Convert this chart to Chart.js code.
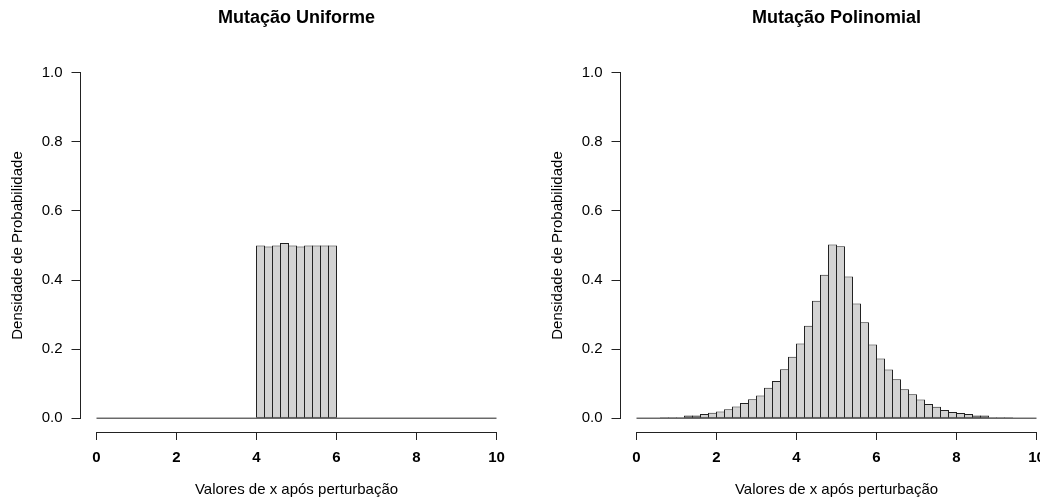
<!DOCTYPE html>
<html>
<head>
<meta charset="utf-8">
<script src="https://cdn.jsdelivr.net/npm/chart.js@4.4.1/dist/chart.umd.min.js"></script>
<style>
  html, body { margin: 0; padding: 0; background: #fff; overflow: hidden; }
  #wrap { position: relative; width: 1040px; height: 501px; overflow: hidden; }
  canvas { position: absolute; top: 0; }
  #uniformChart { left: 0; }
  #polyChart { left: 540px; }
</style>
</head>
<body>
<div id="wrap">
  <canvas id="uniformChart" width="520" height="501"></canvas>
  <canvas id="polyChart" width="520" height="501"></canvas>
</div>
<script>
// Histogramas de densidade (bins de 0.2 entre 0 e 10)

const binCenters = [
  0.1, 0.3, 0.5, 0.7, 0.9, 1.1, 1.3, 1.5, 1.7, 1.9,
  2.1, 2.3, 2.5, 2.7, 2.9, 3.1, 3.3, 3.5, 3.7, 3.9,
  4.1, 4.3, 4.5, 4.7, 4.9, 5.1, 5.3, 5.5, 5.7, 5.9,
  6.1, 6.3, 6.5, 6.7, 6.9, 7.1, 7.3, 7.5, 7.7, 7.9,
  8.1, 8.3, 8.5, 8.7, 8.9, 9.1, 9.3, 9.5, 9.7, 9.9
];

const uniformDensity = [
  0, 0, 0, 0, 0, 0, 0, 0, 0, 0,
  0, 0, 0, 0, 0, 0, 0, 0, 0, 0,
  0.500, 0.497, 0.500, 0.507, 0.500, 0.497, 0.500, 0.500, 0.500, 0.500,
  0, 0, 0, 0, 0, 0, 0, 0, 0, 0,
  0, 0, 0, 0, 0, 0, 0, 0, 0, 0
];

const polyDensity = [
  0, 0, 0, 0.003, 0.003, 0.003, 0.008, 0.008, 0.012, 0.016,
  0.019, 0.026, 0.034, 0.044, 0.055, 0.066, 0.088, 0.108, 0.142, 0.178,
  0.216, 0.268, 0.340, 0.415, 0.503, 0.498, 0.410, 0.332, 0.278, 0.213,
  0.173, 0.141, 0.113, 0.084, 0.069, 0.054, 0.041, 0.033, 0.024, 0.018,
  0.015, 0.012, 0.008, 0.008, 0.003, 0.003, 0.003, 0, 0, 0
];

const histRange = [0, 10];
const xTicks = [0, 2, 4, 6, 8, 10];
const yTicks = [0, 0.2, 0.4, 0.6, 0.8, 1.0];

const FONT = "'Liberation Sans', Arial, Helvetica, sans-serif";
const axisColor = '#222';

// eixos no estilo R: linha só do primeiro ao último tick
const rAxes = {
  id: 'rAxes',
  afterDraw(chart) {
    const { ctx, chartArea, scales: { x, y } } = chart;
    const bx = Math.floor(chartArea.left) + 0.5;
    const by = Math.floor(chartArea.bottom) + 0.5;
    ctx.save();
    ctx.strokeStyle = axisColor;
    ctx.lineWidth = 1;
    ctx.beginPath();
    ctx.moveTo(x.getPixelForValue(xTicks[0]), by);
    ctx.lineTo(x.getPixelForValue(xTicks[xTicks.length - 1]), by);
    ctx.moveTo(bx, y.getPixelForValue(yTicks[0]));
    ctx.lineTo(bx, y.getPixelForValue(yTicks[yTicks.length - 1]));
    ctx.stroke();
    ctx.restore();
  }
};

function makeHist(canvasId, title, density) {
  new Chart(document.getElementById(canvasId), {
    type: 'bar',
    data: {
      datasets: [
        {
          data: binCenters.map((c, i) => ({ x: c, y: density[i] })),
          backgroundColor: '#d3d3d3',
          borderColor: axisColor,
          borderWidth: 1,
          borderSkipped: false,
          inflateAmount: 0,
          categoryPercentage: 1,
          barPercentage: 1.125,
          order: 2
        },
        {
          type: 'line',
          data: histRange.map(v => ({ x: v, y: 0 })),
          borderColor: axisColor,
          borderWidth: 1,
          pointRadius: 0,
          order: 1
        }
      ]
    },
    options: {
      responsive: false,
      animation: false,
      layout: { padding: { left: 0, right: 7.5, top: 0, bottom: 0 } },
      plugins: {
        legend: { display: false },
        tooltip: { enabled: false },
        title: {
          display: true,
          fullSize: false,
          text: title,
          color: '#000',
          font: { family: FONT, size: 18, weight: 'bold' },
          padding: { top: 7, bottom: 30.4 }
        }
      },
      scales: {
        x: {
          type: 'linear',
          min: -0.4,
          max: 10.4,
          offset: false,
          afterFit: s => { s.height = 69; },
          afterBuildTicks: s => { s.ticks = xTicks.map(v => ({ value: v })); },
          border: { display: false },
          grid: { display: true, offset: false, drawOnChartArea: false, drawTicks: true, tickLength: 8, color: axisColor },
          ticks: {
            color: '#000',
            padding: 9,
            maxRotation: 0,
            autoSkip: false,
            font: { family: FONT, size: 15, weight: 'bold' },
            callback: v => String(v)
          },
          title: {
            display: true,
            text: 'Valores de x após perturbação',
            color: '#000',
            font: { family: FONT, size: 15 },
            padding: { top: 0, bottom: 2 }
          }
        },
        y: {
          min: -0.04,
          max: 1.04,
          afterFit: s => { s.width = 80.5; },
          afterBuildTicks: s => { s.ticks = yTicks.map(v => ({ value: v })); },
          border: { display: false },
          grid: { display: true, drawOnChartArea: false, drawTicks: true, tickLength: 9, color: axisColor },
          ticks: {
            color: '#000',
            padding: 9,
            autoSkip: false,
            font: { family: FONT, size: 15 },
            callback: v => v.toFixed(1)
          },
          title: {
            display: true,
            text: 'Densidade de Probabilidade',
            color: '#000',
            font: { family: FONT, size: 15 },
            padding: { top: 8.5, bottom: 0 }
          }
        }
      }
    },
    plugins: [rAxes]
  });
}

makeHist('uniformChart', 'Mutação Uniforme', uniformDensity);
makeHist('polyChart', 'Mutação Polinomial', polyDensity);
</script>
</body>
</html>
